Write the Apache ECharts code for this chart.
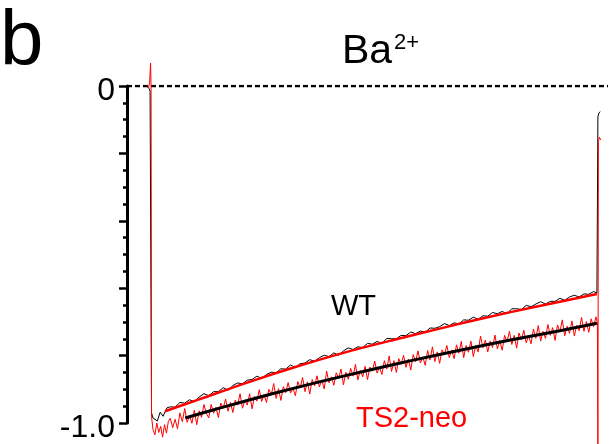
<!DOCTYPE html>
<html><head><meta charset="utf-8">
<script src="https://cdn.jsdelivr.net/npm/echarts@6/dist/echarts.min.js"></script>
<style>html,body{margin:0;padding:0;background:#fff}#c{width:613px;height:444px}</style>
</head><body><div id="c"></div>
<script>
// y-axis ticks (labelled only at ends)
const yTickLabels = { '0': '0', '-1': '-1.0' };
const panelLabel = 'b';
const titleMain = 'Ba';
const titleSup = '2+';
const nameWT = 'WT';
const nameTS = 'TS2-neo';

// exponential fits (time in ms, normalised current)
const wtFitT = [79,150,250,350,450,550,650,750,850,977];
const wtFitV = [-0.965,-0.930,-0.880,-0.834,-0.792,-0.755,-0.720,-0.686,-0.655,-0.617];
const tsFitT = [121,200,300,400,500,600,700,800,900,977];
const tsFitV = [-0.985,-0.953,-0.914,-0.878,-0.844,-0.812,-0.782,-0.753,-0.726,-0.704];

// WT raw trace (black)
const wtT = [42,46,48,50,51,54,63,69,75,83,
90,100,110,120,130,140,150,160,170,180,190,200,210,220,230,240,250,260,270,280,290,300,310,320,330,340,350,360,370,380,390,400,410,420,430,440,450,460,470,480,490,500,510,520,530,540,550,560,570,580,590,600,610,620,630,640,650,660,670,680,690,700,710,720,730,740,750,760,770,780,790,800,810,820,830,840,850,860,870,880,890,900,910,920,930,940,950,960,970,
977,979,981,984];
const wtV = [-0.002,-0.008,-0.015,-0.020,-0.970,-0.985,-0.994,-0.968,-0.980,-0.955,
-0.952,-0.953,-0.939,-0.941,-0.931,-0.937,-0.923,-0.913,-0.919,-0.907,-0.907,-0.895,-0.903,-0.889,-0.881,-0.884,-0.873,-0.871,-0.861,-0.868,-0.856,-0.849,-0.851,-0.839,-0.840,-0.828,-0.835,-0.824,-0.822,-0.812,-0.817,-0.806,-0.799,-0.803,-0.792,-0.799,-0.786,-0.777,-0.782,-0.774,-0.776,-0.764,-0.766,-0.758,-0.764,-0.749,-0.750,-0.750,-0.740,-0.741,-0.730,-0.735,-0.727,-0.731,-0.718,-0.719,-0.714,-0.705,-0.711,-0.703,-0.706,-0.694,-0.695,-0.686,-0.692,-0.682,-0.683,-0.672,-0.676,-0.669,-0.676,-0.661,-0.661,-0.663,-0.651,-0.655,-0.647,-0.640,-0.647,-0.639,-0.639,-0.630,-0.636,-0.626,-0.621,-0.626,-0.617,-0.618,-0.610,
-0.614,-0.092,-0.080,-0.076];

// TS2-neo raw trace (red)
const tsT = [42,45,47,49,50,51,54,58,62,66,70,74,78,82,86,
90,95,100,105,110,115,120,125,130,135,140,145,150,155,160,165,170,175,180,185,190,195,200,205,210,215,220,225,230,235,240,245,250,255,260,265,270,275,280,285,290,295,300,305,310,315,320,325,330,335,340,345,350,355,360,365,370,375,380,385,390,395,400,405,410,415,420,425,430,435,440,445,450,455,460,465,470,475,480,485,490,495,500,505,510,515,520,525,530,535,540,545,550,555,560,565,570,575,580,585,590,595,600,605,610,615,620,625,630,635,640,645,650,655,660,665,670,675,680,685,690,695,700,705,710,715,720,725,730,735,740,745,750,755,760,765,770,775,780,785,790,795,800,805,810,815,820,825,830,835,840,845,850,855,860,865,870,875,880,885,890,895,900,905,910,915,920,925,930,935,940,945,950,955,960,965,970,975,
978,979,980,982,985];
const tsV = [0.002,-0.004,0.010,0.068,0.000,-0.980,-1.020,-1.035,-1.000,-1.028,-1.010,-1.042,-1.005,-1.030,-0.995,
-0.986,-1.014,-0.989,-1.017,-0.970,-0.996,-0.957,-0.998,-0.978,-1.001,-0.962,-1.005,-0.964,-0.983,-0.945,-0.972,-0.985,-0.945,-0.971,-0.953,-0.984,-0.941,-0.956,-0.929,-0.965,-0.939,-0.969,-0.932,-0.947,-0.913,-0.956,-0.933,-0.947,-0.913,-0.958,-0.921,-0.935,-0.901,-0.936,-0.916,-0.939,-0.900,-0.916,-0.883,-0.927,-0.898,-0.933,-0.892,-0.910,-0.880,-0.911,-0.897,-0.919,-0.877,-0.896,-0.865,-0.907,-0.878,-0.914,-0.871,-0.890,-0.860,-0.893,-0.872,-0.899,-0.846,-0.881,-0.863,-0.888,-0.851,-0.867,-0.840,-0.887,-0.849,-0.870,-0.838,-0.861,-0.826,-0.872,-0.844,-0.863,-0.832,-0.871,-0.834,-0.846,-0.816,-0.852,-0.834,-0.856,-0.815,-0.840,-0.801,-0.847,-0.815,-0.850,-0.809,-0.826,-0.799,-0.835,-0.810,-0.843,-0.797,-0.818,-0.786,-0.822,-0.804,-0.829,-0.785,-0.813,-0.774,-0.818,-0.789,-0.823,-0.783,-0.796,-0.770,-0.806,-0.783,-0.809,-0.768,-0.793,-0.758,-0.806,-0.770,-0.790,-0.757,-0.803,-0.770,-0.789,-0.742,-0.777,-0.754,-0.789,-0.757,-0.776,-0.739,-0.780,-0.755,-0.784,-0.740,-0.759,-0.728,-0.767,-0.740,-0.778,-0.733,-0.753,-0.725,-0.762,-0.741,-0.765,-0.721,-0.749,-0.711,-0.757,-0.728,-0.749,-0.708,-0.740,-0.717,-0.755,-0.709,-0.730,-0.694,-0.741,-0.713,-0.734,-0.697,-0.742,-0.710,-0.726,-0.687,-0.728,-0.699,-0.731,-0.691,-0.714,-0.685,
-0.703,-1.120,-0.165,-0.152,-0.160];

const zeroLineT = [0, 1000];
const zeroLineV = [0, 0];

const pair = (t, v) => t.map((x, i) => [x, v[i]]);
const RED = '#ff0000', BLACK = '#000000', FONT = 'Liberation Sans';

const chart = echarts.init(document.getElementById('c'), null, { renderer: 'canvas' });
chart.setOption({
  animation: false,
  backgroundColor: '#fff',
  grid: { left: 127, right: 5, top: 86, bottom: 19 },
  xAxis: { type: 'value', min: 0, max: 1000, show: false },
  yAxis: {
    type: 'value', min: -1, max: 0, interval: 0.2,
    axisLine: { show: true, lineStyle: { color: BLACK, width: 3 } },
    axisTick: { show: true, inside: false, length: 8, lineStyle: { color: BLACK, width: 2.5 } },
    minorTick: { show: true, splitNumber: 4, length: 4, lineStyle: { color: BLACK, width: 2.5 } },
    splitLine: { show: false }, minorSplitLine: { show: false },
    axisLabel: {
      formatter: v => { const s = yTickLabels[String(Math.round(v * 10) / 10)]; return s ? '{n|' + s + '}' : ''; },
      margin: 12,
      rich: { n: { fontSize: 32, fontFamily: FONT, color: BLACK, padding: [10, 0, 0, 0] } }
    }
  },
  series: [
    { type: 'line', data: pair(zeroLineT, zeroLineV), showSymbol: false, silent: true,
      lineStyle: { color: BLACK, width: 2.5, type: [5, 3] } },
    { type: 'line', data: pair(wtT, wtV), showSymbol: false, clip: false,
      lineStyle: { color: BLACK, width: 1 } },
    { type: 'line', data: pair(tsT, tsV), showSymbol: false, clip: false,
      lineStyle: { color: RED, width: 1 } },
    { type: 'line', data: pair(wtFitT, wtFitV), showSymbol: false, smooth: 0.3,
      lineStyle: { color: RED, width: 2.5 } },
    { type: 'line', data: pair(tsFitT, tsFitV), showSymbol: false, smooth: 0.3,
      lineStyle: { color: BLACK, width: 3 } }
  ],
  graphic: [
    { type: 'text', x: 0, y: 43, style: { text: panelLabel, fontSize: 78, fontFamily: FONT, fill: BLACK, verticalAlign: 'middle', align: 'left' } },
    { type: 'text', x: 342, y: 52, style: { text: titleMain, fontSize: 41, fontFamily: FONT, fill: BLACK, verticalAlign: 'middle', align: 'left' } },
    { type: 'text', x: 394, y: 43, style: { text: titleSup, fontSize: 22, fontFamily: FONT, fill: BLACK, verticalAlign: 'middle', align: 'left' } },
    { type: 'text', x: 331, y: 307, style: { text: nameWT, fontSize: 29, fontFamily: FONT, fill: BLACK, verticalAlign: 'middle', align: 'left' } },
    { type: 'text', x: 356, y: 419, style: { text: nameTS, fontSize: 29, fontFamily: FONT, fill: RED, verticalAlign: 'middle', align: 'left' } }
  ]
});
</script></body></html>
